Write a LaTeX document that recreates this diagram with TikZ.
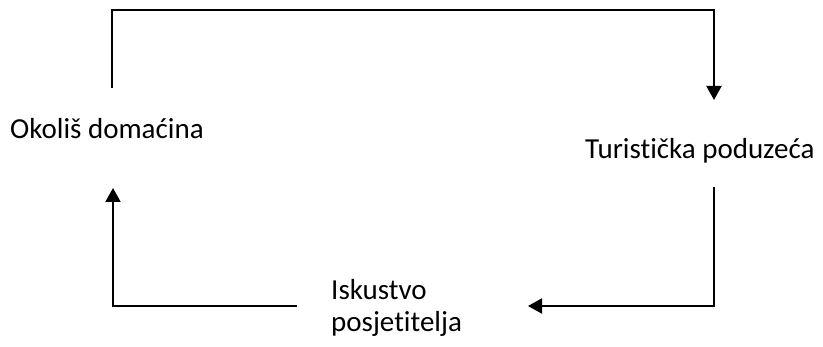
\documentclass[tikz,border=0pt]{standalone}
\usepackage{fontspec}
\setmainfont[Ligatures=NoCommon]{Carlito}
\usetikzlibrary{arrows.meta,positioning}

\begin{document}
\begin{tikzpicture}[x=1pt,y=-1pt,
    word/.style={inner sep=0pt,font=\fontsize{29}{32}\selectfont},
    flow/.style={line width=2pt,-{Triangle[width=15pt,length=14pt]}}]
%
  \useasboundingbox (0,0) rectangle (823,347) ;
%
  \node (okolis) [word,anchor=base west] at (10,139) {Okoliš domaćina} ;
  \node (turist) [word,anchor=base west] at (585,159) {Turistička poduzeća} ;
  \node (iskustvo) [word,align=left,anchor=base west] at (331,332) {Iskustvo\\posjetitelja} ;
%
  \coordinate (okout) at (112,88) ;
  \coordinate (okin)  at (113,188) ;
  \coordinate (tuin)  at (714,100) ;
  \coordinate (tuout) at (714,187) ;
  \coordinate (isin)  at (528,306) ;
  \coordinate (isout) at (297,306) ;
%
  \draw [flow] (okout) -- (okout |- 0,10) -| (tuin) ;
  \draw [flow] (tuout) |- (isin) ;
  \draw [flow] (isout) -| (okin) ;
%
\end{tikzpicture}
\end{document}
